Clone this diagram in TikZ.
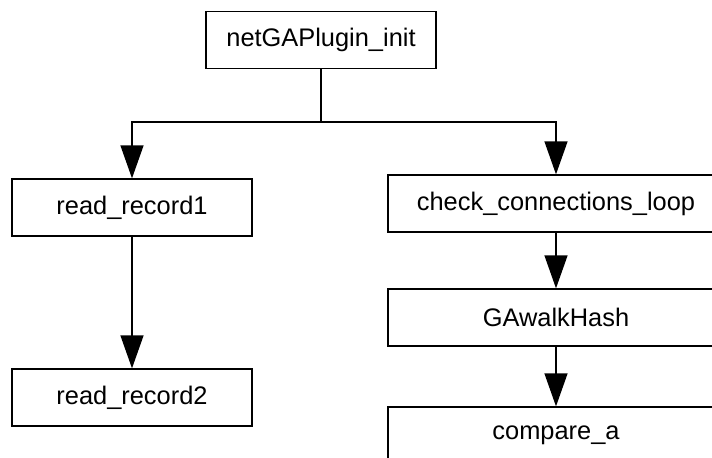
\documentclass[tikz,border=0pt]{standalone}
\usepackage{fontspec}
\setmainfont{Liberation Sans}
\usetikzlibrary{arrows.meta}

\begin{document}
\begin{tikzpicture}[x=0.5pt, y=-0.5pt,
        func/.style={draw, line width=0.65pt, inner sep=0pt, minimum height=28.5pt,
            font=\fontsize{12.7}{14}\selectfont},
        call/.style={-{Triangle[length=16.5pt, width=11.5pt]}, line width=0.65pt}]
        \clip (0,0) rectangle (712,457);

        \node[func, minimum width=115pt] (init) at (321,40) {netGAPlugin\_init};

        \node[func, minimum width=120pt] (rec1) at (132,207.5) {read\_record1};
        \node[func, minimum width=120pt] (rec2) at (132,397.5) {read\_record2};

        \node[func, minimum width=168pt] (check) at (556,203.5) {check\_connections\_loop};
        \node[func, minimum width=168pt] (walk) at (556,317.5) {GAwalkHash};
        \node[func, minimum width=168pt] (cmp) at (556,435.5) {compare\_a};

        \coordinate (split) at (321,122);
        \draw[line width=0.65pt] (init) -- (split);
        \draw[call] (split) -| (rec1);
        \draw[call] (split) -| (check);

        \draw[call] (rec1) -- (rec2);
        \draw[call] (check) -- (walk);
        \draw[call] (walk) -- (cmp);
    \end{tikzpicture}
\end{document}
